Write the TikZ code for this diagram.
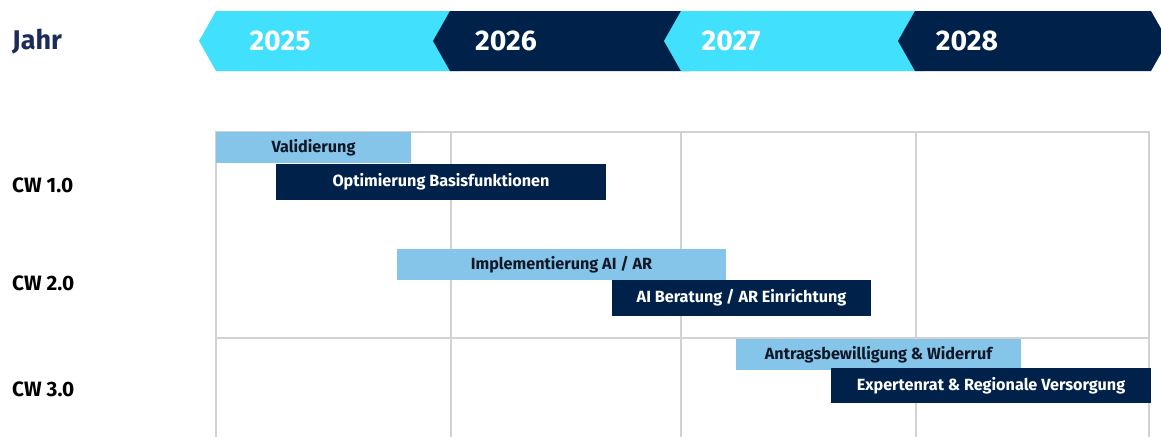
\documentclass[tikz,border=0pt]{standalone}
\usepackage{fontspec}
\setmainfont{Fira Sans}
\definecolor{cyanyr}{HTML}{41E1FD}
\definecolor{navy}{HTML}{00224A}
\definecolor{lightbar}{HTML}{86C5EA}
\definecolor{jahrcol}{HTML}{1C2B5A}
\definecolor{gridcol}{HTML}{D2D2D2}
\definecolor{darktxt}{HTML}{101828}
\tikzset{
  yearlbl/.style={text=white, font=\fontsize{28.4}{31}\selectfont\bfseries, inner sep=0pt},
  rowlbl/.style={text=black, font=\fontsize{20.8}{23}\selectfont\bfseries, anchor=west, inner sep=0pt},
  barbase/.style={anchor=north west, inner sep=0pt, outer sep=0pt, font=\fontsize{16.2}{19}\selectfont\bfseries},
  lbar/.style={barbase, fill=lightbar, text=darktxt},
  nbar/.style={barbase, fill=navy, text=white},
  gridline/.style={draw=gridcol, line width=1.6pt},
}
\begin{document}
\begin{tikzpicture}[x=1pt,y=-1pt]
\useasboundingbox[fill=white] (0,0) rectangle (1161,437);
\begin{scope}
\clip (0,0) rectangle (1161,437);
% year chevrons
\fill[cyanyr] (199,41) -- (216,11) -- (460,11) -- (460,71) -- (216,71) -- cycle;
\fill[navy] (433,41) -- (450,11) -- (690,11) -- (690,71) -- (450,71) -- cycle;
\fill[cyanyr] (664,41) -- (681,11) -- (925,11) -- (925,71) -- (681,71) -- cycle;
\fill[navy] (898,41) -- (915,11) -- (1151,11) -- (1168,41) -- (1151,71) -- (915,71) -- cycle;
\node[yearlbl] (y25) at (280,41) {2025};
\node[yearlbl] (y26) at (506,41) {2026};
\node[yearlbl] (y27) at (731,41) {2027};
\node[yearlbl] (y28) at (967,41) {2028};
\node[text=jahrcol, font=\fontsize{27}{30}\selectfont\bfseries, anchor=west, inner sep=0pt] (jahr) at (12,42) {Jahr};
% grid
\draw[gridline] (216,437) -- (216,132) -- (1149,132) -- (1149,437);
\draw[gridline] (451,132) -- (451,437);
\draw[gridline] (681,132) -- (681,437);
\draw[gridline] (916,132) -- (916,437);
\draw[gridline] (216,338) -- (1149,338);
% row labels
\node[rowlbl] (cw1) at (12,185) {CW 1.0};
\node[rowlbl] (cw2) at (12,283) {CW 2.0};
\node[rowlbl] (cw3) at (12,389) {CW 3.0};
% bars
\node[lbar, minimum width=195pt, minimum height=31pt] (val) at (216,132) {Validierung};
\node[nbar, minimum width=330pt, minimum height=36pt] (opt) at (276,164) {Optimierung Basisfunktionen};
\node[lbar, minimum width=329pt, minimum height=31pt] (impl) at (397,249) {Implementierung AI / AR};
\node[nbar, minimum width=259pt, minimum height=36pt] (ber) at (612,280) {AI Beratung / AR Einrichtung};
\node[lbar, minimum width=285pt, minimum height=31pt] (antr) at (736,339) {Antragsbewilligung \& Widerruf};
\node[nbar, minimum width=320pt, minimum height=35pt] (exp) at (831,368) {Expertenrat \& Regionale Versorgung};
\end{scope}
\end{tikzpicture}
\end{document}
